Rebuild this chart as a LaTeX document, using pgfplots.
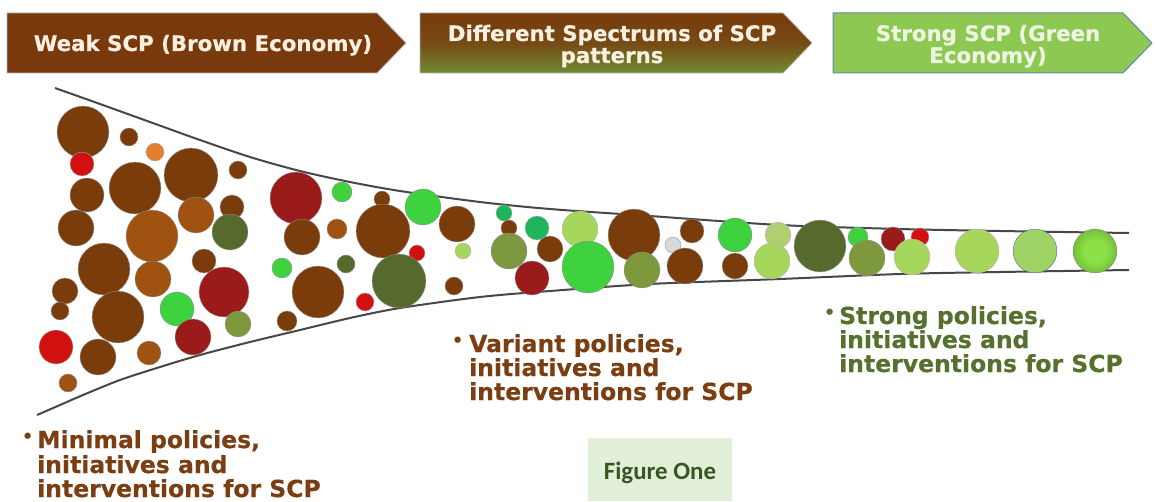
\documentclass[border=0pt]{standalone}
\usepackage{pgfplots}
\pgfplotsset{compat=1.18}
\usepackage{fontspec}
\setmainfont{DejaVu Sans}[BoldFeatures={FakeBold=0.5}]
\newfontfamily\carlito{Carlito}
\definecolor{boxbrown}{RGB}{120,58,12}
\definecolor{boxolive}{RGB}{112,140,52}
\definecolor{boxgreen}{RGB}{140,200,82}
\definecolor{boxblue}{RGB}{100,130,180}
\definecolor{boxtext}{RGB}{250,240,225}
\definecolor{boxtextg}{RGB}{238,246,226}
\definecolor{txtbrown}{RGB}{122,62,18}
\definecolor{txtgreen}{RGB}{86,112,46}
\definecolor{figfill}{RGB}{226,239,217}
\definecolor{figtext}{RGB}{55,86,35}
\definecolor{cbr}{RGB}{122,60,10}
\definecolor{cob}{RGB}{160,82,16}
\definecolor{cor}{RGB}{226,126,44}
\definecolor{crd}{RGB}{210,16,16}
\definecolor{cdr}{RGB}{155,26,26}
\definecolor{cdo}{RGB}{86,106,46}
\definecolor{col}{RGB}{126,152,62}
\definecolor{cbg}{RGB}{62,210,62}
\definecolor{ctg}{RGB}{30,182,92}
\definecolor{clg}{RGB}{166,214,92}
\definecolor{cpg}{RGB}{178,206,112}
\definecolor{cgy}{RGB}{216,216,216}
\definecolor{gbin}{RGB}{140,225,72}
\definecolor{gbout}{RGB}{72,132,32}
\pgfdeclareradialshading{gballshade}{\pgfpoint{0bp}{0bp}}{color(0bp)=(gbin); color(12bp)=(gbin); color(50bp)=(gbout)}
\pgfdeclareplotmark{gball}{%
  \pgfpathcircle{\pgfpointorigin}{\pgfplotmarksize}%
  \pgfshadepath{gballshade}{0}%
  \pgfusepath{stroke}}
\pgfplotstableread{
x y r c
83 132 26 br
129 137 9 br
155 152 9 or
82 164 12 rd
87 195 17 br
135 188 26 br
191 175 27 br
238 170 9 br
76 228 18 br
152 236 26 ob
196 215 18 ob
232 207 12 br
230 232 18 do
104 269 26 br
153 279 18 ob
204 261 12 br
224 292 25 dr
65 291 13 br
60 311 9 br
118 317 26 br
177 309 17 bg
238 324 13 ol
193 337 18 dr
56 347 17 rd
98 357 18 br
149 353 12 ob
68 383 9 ob
296 198 26 dr
342 192 10 bg
382 199 8 br
423 207 18 bg
457 224 18 br
302 237 18 br
337 229 10 ob
383 231 27 br
417 253 8 rd
463 251 8 lg
282 268 10 bg
346 264 9 do
318 292 26 br
399 281 27 do
365 302 9 rd
454 286 9 br
287 321 10 br
504 213 8 tg
509 228 8 br
537 228 12 tg
580 229 18 lg
634 235 26 br
692 231 12 br
735 235 17 bg
778 235 13 pg
509 251 18 ol
550 249 13 br
673 245 8 gy
532 278 17 dr
588 267 26 bg
642 270 18 ol
685 266 18 br
735 266 13 br
772 261 18 lg
820 246 26 do
858 237 10 bg
893 239 12 dr
920 237 9 rd
867 258 18 ol
912 257 18 lg
977 251 22 lg
1035 251 22 lb
1095 251 22 gb
}\bubbles
\begin{document}
\begin{tikzpicture}
\begin{axis}[
  width=1156bp, height=501bp, scale only axis,
  xmin=0, xmax=1156, ymin=0, ymax=501, y dir=reverse,
  hide axis, clip=false,
]
\path (rel axis cs:0,0) rectangle (rel axis cs:1,1);
% header arrows
\draw[fill=boxbrown, draw=gray!60, line width=0.8bp] (axis cs:7,13) -- (axis cs:377,13) -- (axis cs:406,43) -- (axis cs:377,73) -- (axis cs:7,73) -- cycle;
\shade[top color=boxbrown, bottom color=boxolive, middle color=boxbrown!80!boxolive] (axis cs:420,13) -- (axis cs:783,13) -- (axis cs:812,43) -- (axis cs:783,73) -- (axis cs:420,73) -- cycle;
\draw[draw=gray!60, line width=0.8bp] (axis cs:420,13) -- (axis cs:783,13) -- (axis cs:812,43) -- (axis cs:783,73) -- (axis cs:420,73) -- cycle;
\draw[fill=boxgreen, draw=boxblue, line width=1bp] (axis cs:833,13) -- (axis cs:1123,13) -- (axis cs:1152,43) -- (axis cs:1123,73) -- (axis cs:833,73) -- cycle;
\node[anchor=base, inner sep=0, text=boxtext, font=\bfseries\fontsize{21.4}{26}\selectfont] at (axis cs:203,51) {Weak SCP (Brown Economy)};
\node[anchor=base, inner sep=0, text=boxtext, font=\bfseries\fontsize{21.4}{26}\selectfont] at (axis cs:612,41) {Different Spectrums of SCP};
\node[anchor=base, inner sep=0, text=boxtext, font=\bfseries\fontsize{21.4}{26}\selectfont] at (axis cs:612,63) {patterns};
\node[anchor=base, inner sep=0, text=boxtextg, font=\bfseries\fontsize{21.4}{26}\selectfont] at (axis cs:988,41) {Strong SCP (Green};
\node[anchor=base, inner sep=0, text=boxtextg, font=\bfseries\fontsize{21.4}{26}\selectfont] at (axis cs:988,63) {Economy)};
% funnel
\addplot[smooth, draw=black!72, line width=2bp] coordinates {
(55,88) (100,104) (150,122) (200,140) (250,157) (300,171) (350,182) (400,191) (480,202) (550,209) (650,216) (780,225) (900,229) (1000,231) (1129,233)};
\addplot[smooth, draw=black!72, line width=2bp] coordinates {
(37,415) (60,405) (83,395) (120,380) (160,367) (200,355) (250,342) (300,330) (350,318) (400,308) (480,297) (550,291) (650,284) (780,279) (900,274) (1000,272) (1129,270)};
% bubbles
\addplot[scatter, only marks, point meta=explicit symbolic,
  scatter/classes={
    br={mark=*, draw=black!45, fill=cbr},
    ob={mark=*, draw=black!45, fill=cob},
    or={mark=*, draw=black!35, fill=cor},
    rd={mark=*, draw=black!35, fill=crd},
    dr={mark=*, draw=black!45, fill=cdr},
    do={mark=*, draw=black!45, fill=cdo},
    ol={mark=*, draw=black!45, fill=col},
    bg={mark=*, draw=black!45, fill=cbg},
    tg={mark=*, draw=black!35, fill=ctg},
    lg={mark=*, draw=black!30, fill=clg},
    pg={mark=*, draw=black!30, fill=cpg},
    gy={mark=*, draw=black!40, fill=cgy},
    lb={mark=*, draw=boxblue!80!black, fill=cpg!90!green},
    gb={mark=gball, draw=black!50}},
  visualization depends on={\thisrow{r}\as\rr},
  scatter/@pre marker code/.append style={/tikz/mark size=\rr, /tikz/line width=1bp},
] table[x=x, y=y, meta=c] {\bubbles};
% bullet texts
\node[anchor=base west, inner sep=0, text=txtbrown, font=\bfseries\fontsize{17}{17}\selectfont] at (axis cs:22,442) {•};
\node[anchor=base west, inner sep=0, text=txtbrown, font=\bfseries\fontsize{23.6}{28}\selectfont] at (axis cs:37,448) {Minimal policies,};
\node[anchor=base west, inner sep=0, text=txtbrown, font=\bfseries\fontsize{23.6}{28}\selectfont] at (axis cs:37,473) {initiatives and};
\node[anchor=base west, inner sep=0, text=txtbrown, font=\bfseries\fontsize{23.6}{28}\selectfont] at (axis cs:37,497) {interventions for SCP};
\node[anchor=base west, inner sep=0, text=txtbrown, font=\bfseries\fontsize{17}{17}\selectfont] at (axis cs:452,346) {•};
\node[anchor=base west, inner sep=0, text=txtbrown, font=\bfseries\fontsize{23.6}{28}\selectfont] at (axis cs:469,352) {Variant policies,};
\node[anchor=base west, inner sep=0, text=txtbrown, font=\bfseries\fontsize{23.6}{28}\selectfont] at (axis cs:469,376) {initiatives and};
\node[anchor=base west, inner sep=0, text=txtbrown, font=\bfseries\fontsize{23.6}{28}\selectfont] at (axis cs:469,400) {interventions for SCP};
\node[anchor=base west, inner sep=0, text=txtgreen, font=\bfseries\fontsize{17}{17}\selectfont] at (axis cs:824,318) {•};
\node[anchor=base west, inner sep=0, text=txtgreen, font=\bfseries\fontsize{23.6}{28}\selectfont] at (axis cs:839,324) {Strong policies,};
\node[anchor=base west, inner sep=0, text=txtgreen, font=\bfseries\fontsize{23.6}{28}\selectfont] at (axis cs:839,348) {initiatives and};
\node[anchor=base west, inner sep=0, text=txtgreen, font=\bfseries\fontsize{23.6}{28}\selectfont] at (axis cs:839,372) {interventions for SCP};
% figure label
\fill[figfill] (axis cs:588,438) rectangle (axis cs:732,501);
\node[anchor=base, inner sep=0, text=figtext, font=\carlito\bfseries\fontsize{25}{30}\selectfont] at (axis cs:660,479) {Figure One};
\end{axis}
\end{tikzpicture}
\end{document}
